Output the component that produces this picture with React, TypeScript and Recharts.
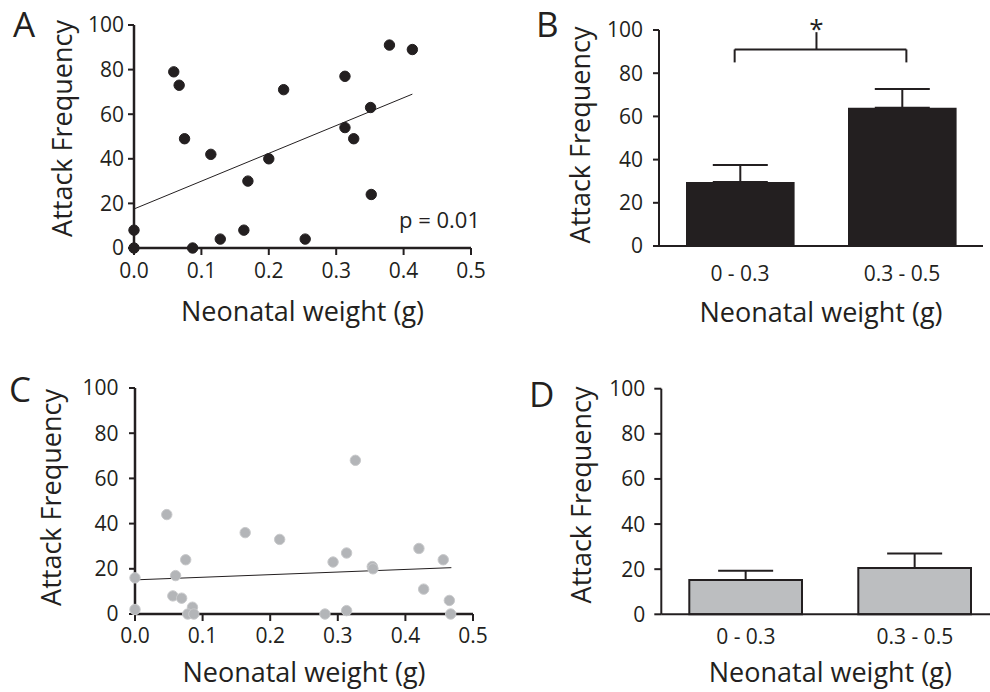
import {
  Bar,
  BarChart,
  ErrorBar,
  Label,
  ReferenceLine,
  Scatter,
  ScatterChart,
  XAxis,
  YAxis
} from "recharts";

const ink = "#231f20";
const font = "'Open Sans', sans-serif";

const weightTicks = [0, 0.1, 0.2, 0.3, 0.4, 0.5];
const freqTicks = [0, 20, 40, 60, 80, 100];
const weightGroups = ["0 - 0.3", "0.3 - 0.5"];
const groupTicks = [0.5, 1.5];

// panel A (black dots)
const weightA = [0, 0, 0.059, 0.067, 0.075, 0.087, 0.114, 0.128, 0.163, 0.169, 0.2, 0.222, 0.254, 0.313, 0.313, 0.326, 0.351, 0.352, 0.379, 0.413];
const attackA = [8, 0, 79, 73, 49, 0, 42, 4, 8, 30, 40, 71, 4, 77, 54, 49, 63, 24, 91, 89];
const fitA = [{ x: 0, y: 17.5 }, { x: 0.413, y: 69 }];

// panel B
const meanB = [29.6, 64];
const errB = [7.9, 8.7];
const bracketB = { left: 0.467, right: 1.527, mid: 0.972, y: 91, leg: 85, top: 99 };

// panel C (grey dots)
const weightC = [0, 0, 0.047, 0.075, 0.06, 0.056, 0.069, 0.085, 0.078, 0.087, 0.163, 0.214, 0.326, 0.293, 0.313, 0.281, 0.313, 0.351, 0.352, 0.42, 0.427, 0.456, 0.465, 0.467];
const attackC = [16, 2, 44, 24, 17, 8, 7, 3, 0, 0, 36, 33, 68, 23, 27, 0, 1.5, 21, 20, 29, 11, 24, 6, 0];
const fitC = [{ x: 0, y: 15.1 }, { x: 0.468, y: 20.5 }];

// panel D
const meanD = [15.2, 20.5];
const errD = [4.1, 6.5];

const pointsA = weightA.map((w, i) => ({ weight: w, attack: attackA[i] }));
const pointsC = weightC.map((w, i) => ({ weight: w, attack: attackC[i] }));
const barsB = weightGroups.map((g, i) => ({ group: g, pos: groupTicks[i], mean: meanB[i], err: [0, errB[i]] }));
const barsD = weightGroups.map((g, i) => ({ group: g, pos: groupTicks[i], mean: meanD[i], err: [0, errD[i]] }));

const tickText = { fill: ink, fontSize: 21, fontFamily: font };
const titleText = { fill: ink, fontSize: 27, fontFamily: font };

const dot = (fill: string, stroke: string, r: number) => (props: any) => (
  <circle cx={props.cx} cy={props.cy} r={r} fill={fill} stroke={stroke} strokeWidth={1} />
);

// rotated y title, centred on the cap height
const yTitle = (x: number, dy: number) => (p: any) => {
  const vb = p.viewBox;
  const cx = vb.x + x;
  const cy = vb.y + vb.height / 2 + dy;
  return (
    <text
      x={cx}
      y={cy}
      dy="0.355em"
      transform={`rotate(-90, ${cx}, ${cy})`}
      textAnchor="middle"
      fill={ink}
      fontSize={27}
      fontFamily={font}
    >
      Attack Frequency
    </text>
  );
};

function ScatterPanel(props: {
  points: { weight: number; attack: number }[];
  fit: { x: number; y: number }[];
  fill: string;
  stroke: string;
  margin: { top: number; right: number };
  xHeight: number;
  yWidth: number;
  yTickMargin: number;
  xTickMargin: number;
  titleOffset: number;
  yLabelX: number;
  yLabelDy: number;
  height: number;
}) {
  return (
    <ScatterChart
      width={495}
      height={props.height}
      margin={{ top: props.margin.top, right: props.margin.right, bottom: 0, left: 0 }}
    >
      <XAxis
        type="number"
        dataKey="weight"
        domain={[0, 0.5]}
        ticks={weightTicks}
        tickFormatter={(v: number) => v.toFixed(1)}
        height={props.xHeight}
        tickSize={7}
        tickMargin={props.xTickMargin}
        axisLine={{ stroke: ink, strokeWidth: 2.5 }}
        tickLine={{ stroke: ink, strokeWidth: 2 }}
        tick={tickText}
      >
        <Label value="Neonatal weight (g)" position="insideBottom" offset={props.titleOffset} {...titleText} />
      </XAxis>
      <YAxis
        type="number"
        dataKey="attack"
        domain={[0, 100]}
        ticks={freqTicks}
        width={props.yWidth}
        tickSize={6}
        tickMargin={props.yTickMargin}
        axisLine={{ stroke: ink, strokeWidth: 2.5 }}
        tickLine={{ stroke: ink, strokeWidth: 2 }}
        tick={tickText}
      >
        <Label content={yTitle(props.yLabelX, props.yLabelDy)} />
      </YAxis>
      <ReferenceLine segment={props.fit} stroke={ink} strokeWidth={1} ifOverflow="visible" />
      <Scatter data={props.points} shape={dot(props.fill, props.stroke, 5.2)} isAnimationActive={false} />
    </ScatterChart>
  );
}

function BarPanel(props: {
  data: { group: string; pos: number; mean: number; err: number[] }[];
  fill: string;
  barStroke?: string;
  barSize: number;
  width: number;
  height: number;
  margin: { top: number; right: number };
  xHeight: number;
  yWidth: number;
  yTickSize: number;
  yTickMargin: number;
  xTickMargin: number;
  titleOffset: number;
  yLabelX: number;
  yLabelDy: number;
  children?: any;
}) {
  return (
    <BarChart
      width={props.width}
      height={props.height}
      data={props.data}
      margin={{ top: props.margin.top, right: props.margin.right, bottom: 0, left: 0 }}
    >
      <XAxis
        type="number"
        dataKey="pos"
        domain={[0, 2]}
        ticks={groupTicks}
        tickFormatter={(v: number) => weightGroups[Math.floor(v)]}
        allowDataOverflow
        height={props.xHeight}
        tickLine={false}
        tickSize={0}
        tickMargin={props.xTickMargin}
        axisLine={{ stroke: ink, strokeWidth: 2 }}
        tick={tickText}
      >
        <Label value="Neonatal weight (g)" position="insideBottom" offset={props.titleOffset} {...titleText} />
      </XAxis>
      <YAxis
        type="number"
        domain={[0, 100]}
        ticks={freqTicks}
        width={props.yWidth}
        tickSize={props.yTickSize}
        tickMargin={props.yTickMargin}
        axisLine={{ stroke: ink, strokeWidth: 2 }}
        tickLine={{ stroke: ink, strokeWidth: 2 }}
        tick={tickText}
      >
        <Label content={yTitle(props.yLabelX, props.yLabelDy)} />
      </YAxis>
      <Bar
        dataKey="mean"
        barSize={props.barSize}
        fill={props.fill}
        stroke={props.barStroke}
        strokeWidth={props.barStroke ? 2 : 0}
        isAnimationActive={false}
      >
        <ErrorBar dataKey="err" width={27.5} stroke={ink} strokeWidth={2} direction="y" />
      </Bar>
      {props.children}
    </BarChart>
  );
}

export default function App() {
  const b = bracketB;
  return (
    <div
      style={{
        position: "absolute",
        left: 0,
        top: 0,
        width: 990,
        height: 692,
        overflow: "hidden",
        background: "#fff",
        fontFamily: font
      }}
    >
      <div style={{ position: "absolute", left: 0, top: 0 }}>
        <ScatterPanel
          points={pointsA}
          fit={fitA}
          fill={ink}
          stroke={ink}
          height={340}
          margin={{ top: 25, right: 24 }}
          xHeight={92}
          yWidth={134}
          yTickMargin={4}
          xTickMargin={8}
          titleOffset={19}
          yLabelX={62}
          yLabelDy={-8}
        />
      </div>
      <div style={{ position: "absolute", left: 495, top: 0 }}>
        <BarPanel
          data={barsB}
          fill={ink}
          barSize={108.6}
          width={495}
          height={340}
          margin={{ top: 30, right: 7 }}
          xHeight={94}
          yWidth={164}
          yTickSize={6}
          yTickMargin={10}
          xTickMargin={20}
          titleOffset={18}
          yLabelX={85}
          yLabelDy={-3}
        >
          <ReferenceLine segment={[{ x: b.left, y: b.y }, { x: b.right, y: b.y }]} stroke={ink} strokeWidth={2} />
          <ReferenceLine segment={[{ x: b.left, y: b.leg }, { x: b.left, y: b.y }]} stroke={ink} strokeWidth={2} />
          <ReferenceLine segment={[{ x: b.right, y: b.leg }, { x: b.right, y: b.y }]} stroke={ink} strokeWidth={2} />
          <ReferenceLine
            segment={[{ x: b.mid, y: b.y }, { x: b.mid, y: b.top }]}
            stroke={ink}
            strokeWidth={2}
            label={{ value: "*", position: "top", offset: -6, fill: ink, fontSize: 26, fontFamily: font }}
          />
        </BarPanel>
      </div>
      <div style={{ position: "absolute", left: 0, top: 340 }}>
        <ScatterPanel
          points={pointsC}
          fit={fitC}
          fill="#b3b5b8"
          stroke="#c8c9cb"
          height={352}
          margin={{ top: 48, right: 22 }}
          xHeight={78}
          yWidth={135}
          yTickMargin={10.5}
          xTickMargin={7}
          titleOffset={10}
          yLabelX={51}
          yLabelDy={-3.5}
        />
      </div>
      <div style={{ position: "absolute", left: 495, top: 340 }}>
        <BarPanel
          data={barsD}
          fill="#bcbec0"
          barStroke={ink}
          barSize={112.7}
          width={510}
          height={352}
          margin={{ top: 48.7, right: 5.7 }}
          xHeight={77.7}
          yWidth={166.3}
          yTickSize={7}
          yTickMargin={9}
          xTickMargin={15}
          titleOffset={10}
          yLabelX={86.7}
          yLabelDy={-6.5}
        />
      </div>
      <svg width={990} height={692} style={{ position: "absolute", left: 0, top: 0, pointerEvents: "none" }}>
        <g fill={ink} fontFamily={font} fontSize={35}>
          <text x={13} y={37}>A</text>
          <text x={536} y={37}>B</text>
          <text x={9} y={402}>C</text>
          <text x={529} y={407}>D</text>
        </g>
        <text x={480} y={228} textAnchor="end" fill={ink} fontFamily={font} fontSize={22}>
          p = 0.01
        </text>
      </svg>
    </div>
  );
}
